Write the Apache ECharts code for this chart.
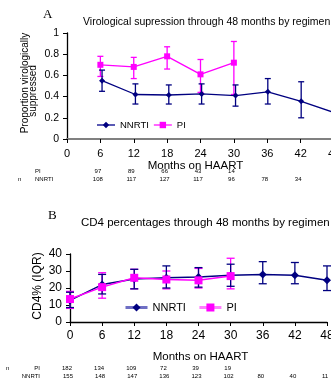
<!DOCTYPE html>
<html><head><meta charset="utf-8">
<script src="https://cdn.jsdelivr.net/npm/echarts@6/dist/echarts.min.js"></script>
<style>html,body{margin:0;padding:0;background:#fff}#c{width:331px;height:379px}</style>
</head><body><div id="c"></div>
<script>
// ---- Panel A: virological suppression ----
const monthTicks = [0, 6, 12, 18, 24, 30, 36, 42, 48];
const monthsA_PI = [6, 12, 18, 24, 30];
const piA = [0.70, 0.68, 0.78, 0.61, 0.72];
const piA_lo = [0.59, 0.57, 0.66, 0.44, 0.42];
const piA_hi = [0.78, 0.77, 0.87, 0.75, 0.92];
const monthsA_NNRTI = [6.3, 12.3, 18.3, 24.2, 30.3, 36.1, 42.1, 48];
const nnrtiA = [0.55, 0.42, 0.415, 0.425, 0.41, 0.445, 0.355, 0.25];
const nnrtiA_lo = [0.45, 0.33, 0.33, 0.33, 0.31, 0.33, 0.20, null];
const nnrtiA_hi = [0.65, 0.52, 0.51, 0.52, 0.51, 0.57, 0.54, null];
const countMonthsA_PI = [6, 12, 18, 24, 30];
const countsA_PI = [97, 89, 66, 43, 14];
const countMonthsA_NNRTI = [6, 12, 18, 24, 30, 36, 42];
const countsA_NNRTI = [108, 117, 127, 117, 96, 78, 34];

// ---- Panel B: CD4 percentages ----
const monthsB_PI = [0, 6, 12, 18, 24, 30];
const piB = [13.5, 20.5, 26, 25, 24.5, 27];
const piB_lo = [8, 14, 19.5, 19.5, 20, 19.5];
const piB_hi = [18, 29, 31, 30, 31.5, 37.5];
const monthsB_NNRTI = [0, 6, 12, 18, 24, 30, 36, 42, 48];
const nnrtiB = [12.7, 22, 25.3, 26, 26.5, 27.5, 28, 27.5, 24.5];
const nnrtiB_lo = [8.5, 16.5, 19.5, 20, 20.5, 21, 22.5, 22.5, 18.5];
const nnrtiB_hi = [17.5, 28, 31, 33, 32, 34, 35.5, 35, 33];
const countMonthsB_PI = [0, 6, 12, 18, 24, 30];
const countsB_PI = [182, 134, 109, 72, 39, 19];
const countMonthsB_NNRTI = [0, 6, 12, 18, 24, 30, 36, 42, 48];
const countsB_NNRTI = [155, 148, 147, 136, 123, 102, 80, 40, 11];

const NAVY = '#000080', MAG = '#ff00ff';
const FONT = '"Liberation Sans", Arial, sans-serif';

function pairs(xs, ys) { return xs.map((x, i) => [x, ys[i]]); }
function bars(xs, lo, hi) {
  const out = [];
  xs.forEach((x, i) => { if (lo[i] != null) out.push([x, lo[i], hi[i]]); });
  return out;
}
function errRender(color, cap) {
  return function (params, api) {
    const x = api.value(0);
    const a = api.coord([x, api.value(2)]);
    const b = api.coord([x, api.value(1)]);
    const st = { stroke: color, lineWidth: 1.3 };
    return { type: 'group', children: [
      { type: 'line', shape: { x1: a[0], y1: a[1], x2: b[0], y2: b[1] }, style: st },
      { type: 'line', shape: { x1: a[0] - cap, y1: a[1], x2: a[0] + cap, y2: a[1] }, style: st },
      { type: 'line', shape: { x1: b[0] - cap, y1: b[1], x2: b[0] + cap, y2: b[1] }, style: st }
    ]};
  };
}

const chart = echarts.init(document.getElementById('c'), null, { renderer: 'canvas' });
const option = {
  animation: false,
  textStyle: { fontFamily: FONT },
  grid: [
    { left: 67, width: 267, top: 33, height: 106, outerBoundsMode: 'none', containLabel: false },
    { left: 70, width: 257, top: 254, height: 68, outerBoundsMode: 'none', containLabel: false }
  ],
  xAxis: [
    { gridIndex: 0, type: 'value', min: 0, max: 48, interval: 6,
      axisLine: { lineStyle: { color: '#808080', width: 2 } },
      axisTick: { show: true, length: 4, lineStyle: { color: '#000' } },
      axisLabel: { color: '#000', fontSize: 11, margin: 9, fontFamily: FONT },
      splitLine: { show: false },
      name: 'Months on HAART', nameLocation: 'middle', nameGap: 16,
      nameTextStyle: { color: '#000', fontSize: 11.5, fontFamily: FONT, padding: [0, 10, 0, 0] } },
    { gridIndex: 1, type: 'value', min: 0, max: 48, interval: 6,
      axisLine: { lineStyle: { color: '#000', width: 1.3 } },
      axisTick: { show: true, length: 4, lineStyle: { color: '#000' } },
      axisLabel: { color: '#000', fontSize: 12, margin: 8, fontFamily: FONT },
      splitLine: { show: false },
      name: 'Months on HAART', nameLocation: 'middle', nameGap: 29,
      nameTextStyle: { color: '#000', fontSize: 11.5, fontFamily: FONT, padding: [0, 0, 0, 4] } }
  ],
  yAxis: [
    { gridIndex: 0, type: 'value', min: 0, max: 1, interval: 0.2,
      axisLine: { show: true, lineStyle: { color: '#000', width: 1.3 } },
      axisTick: { show: true, length: 4, lineStyle: { color: '#000' } },
      axisLabel: { color: '#000', fontSize: 10.5, margin: 8, fontFamily: FONT },
      splitLine: { show: false } },
    { gridIndex: 1, type: 'value', min: 0, max: 40, interval: 10,
      axisLine: { show: true, lineStyle: { color: '#000', width: 1.3 } },
      axisTick: { show: true, length: 4, lineStyle: { color: '#000' } },
      axisLabel: { color: '#000', fontSize: 12, margin: 8, fontFamily: FONT },
      splitLine: { show: false } }
  ],
  legend: [
    { left: 91, top: 115, itemWidth: 18, itemHeight: 8, itemGap: 4, selectedMode: false,
      textStyle: { fontSize: 9.5, color: '#000', fontFamily: FONT },
      data: [
        { name: 'NNRTI', itemStyle: { color: NAVY }, lineStyle: { color: '#5a5ab4', width: 2 } },
        { name: 'PI', itemStyle: { color: MAG }, lineStyle: { color: '#ff66ff', width: 2 } }
      ] },
    { left: 119, top: 297, itemWidth: 22, itemHeight: 10, itemGap: 12, selectedMode: false,
      textStyle: { fontSize: 11, color: '#000', fontFamily: FONT },
      data: [
        { name: 'NNRTI', itemStyle: { color: NAVY }, lineStyle: { color: '#6f6fc4', width: 3 } },
        { name: 'PI', itemStyle: { color: MAG }, lineStyle: { color: '#ff80ff', width: 3 } }
      ] }
  ],
  series: [
    { type: 'custom', xAxisIndex: 0, yAxisIndex: 0, renderItem: errRender(MAG, 3), data: bars(monthsA_PI, piA_lo, piA_hi), z: 2 },
    { type: 'custom', xAxisIndex: 0, yAxisIndex: 0, renderItem: errRender(NAVY, 3), data: bars(monthsA_NNRTI, nnrtiA_lo, nnrtiA_hi), z: 3 },
    { name: 'PI', type: 'line', xAxisIndex: 0, yAxisIndex: 0, data: pairs(monthsA_PI, piA),
      symbol: 'rect', symbolSize: 6, color: MAG, lineStyle: { color: MAG, width: 1.3 }, itemStyle: { color: MAG }, z: 4 },
    { name: 'NNRTI', type: 'line', xAxisIndex: 0, yAxisIndex: 0, data: pairs(monthsA_NNRTI, nnrtiA),
      symbol: 'diamond', symbolSize: 6, color: NAVY, lineStyle: { color: NAVY, width: 1.3 }, itemStyle: { color: NAVY }, z: 5 },

    { type: 'custom', xAxisIndex: 1, yAxisIndex: 1, renderItem: errRender(MAG, 4), data: bars(monthsB_PI, piB_lo, piB_hi), z: 2 },
    { type: 'custom', xAxisIndex: 1, yAxisIndex: 1, renderItem: errRender(NAVY, 4), data: bars(monthsB_NNRTI, nnrtiB_lo, nnrtiB_hi), z: 3 },
    { name: 'NNRTI', type: 'line', xAxisIndex: 1, yAxisIndex: 1, data: pairs(monthsB_NNRTI, nnrtiB),
      symbol: 'diamond', symbolSize: 8, color: NAVY, lineStyle: { color: NAVY, width: 1.5 }, itemStyle: { color: NAVY }, z: 4 },
    { name: 'PI', type: 'line', xAxisIndex: 1, yAxisIndex: 1, data: pairs(monthsB_PI, piB),
      symbol: 'rect', symbolSize: 8, color: MAG, lineStyle: { color: MAG, width: 1.5 }, itemStyle: { color: MAG }, z: 5 }
  ]
};
chart.setOption(option);

// Text annotations and count tables, positioned via the chart's own axes
const g = [];
function txt(x, y, s, size, opts) {
  g.push(Object.assign({ type: 'text', x: x, y: y, silent: true,
    style: Object.assign({ text: s, fontSize: size, fontFamily: FONT, fill: '#000', align: 'left', verticalAlign: 'middle' }, opts && opts.style || {}) },
    opts && opts.el || {}));
}
txt(43, 15, 'A', 13, { style: { fontFamily: '"Liberation Serif", "Times New Roman", serif' } });
txt(83, 22, 'Virological supression through 48 months by regimen', 10.5);
txt(48, 216, 'B', 13, { style: { fontFamily: '"Liberation Serif", "Times New Roman", serif' } });
txt(81, 223, 'CD4 percentages through 48 months by regimen', 11.5);
// y-axis names
txt(25, 83, 'Proportion virologically', 10, { style: { align: 'center' }, el: { rotation: Math.PI / 2 } });
txt(33, 91, 'suppressed', 10, { style: { align: 'center' }, el: { rotation: Math.PI / 2 } });
txt(38, 286, 'CD4% (IQR)', 12, { style: { align: 'center' }, el: { rotation: Math.PI / 2 } });
// table A
txt(35, 171, 'PI', 6);
txt(35, 179.5, 'NNRTI', 6);
txt(18, 179.5, 'n', 6);
countMonthsA_PI.forEach((m, i) => {
  const x = chart.convertToPixel({ xAxisIndex: 0 }, m);
  txt(x - 2.5, 171, String(countsA_PI[i]), 6, { style: { align: 'center' } });
});
countMonthsA_NNRTI.forEach((m, i) => {
  const x = chart.convertToPixel({ xAxisIndex: 0 }, m);
  txt(x - 2.5, 179.5, String(countsA_NNRTI[i]), 6, { style: { align: 'center' } });
});
// table B
txt(6, 368, 'n', 6);
txt(40, 368, 'PI', 6, { style: { align: 'right' } });
txt(40, 376, 'NNRTI', 6, { style: { align: 'right' } });
countMonthsB_PI.forEach((m, i) => {
  const x = chart.convertToPixel({ xAxisIndex: 1 }, m);
  txt(x - 3, 368, String(countsB_PI[i]), 6, { style: { align: 'center' } });
});
countMonthsB_NNRTI.forEach((m, i) => {
  const x = chart.convertToPixel({ xAxisIndex: 1 }, m);
  txt(x - 2, 376, String(countsB_NNRTI[i]), 6, { style: { align: 'center' } });
});
chart.setOption({ graphic: g });
</script>
</body></html>
